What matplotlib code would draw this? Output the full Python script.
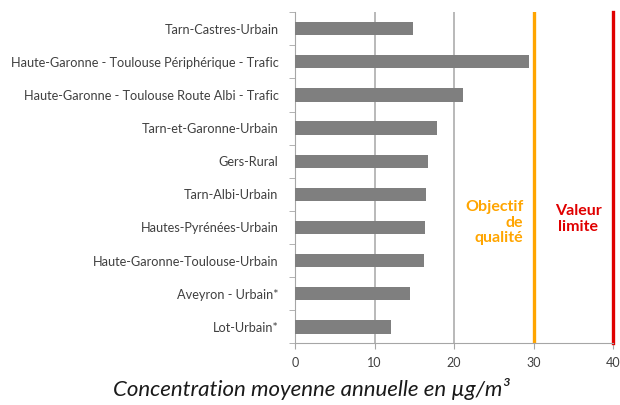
import numpy as np
import matplotlib
matplotlib.use("Agg")
import matplotlib.pyplot as plt

# Stations, top to bottom as in the chart
stations = [
    "Tarn-Castres-Urbain",
    "Haute-Garonne - Toulouse Périphérique - Trafic",
    "Haute-Garonne - Toulouse Route Albi - Trafic",
    "Tarn-et-Garonne-Urbain",
    "Gers-Rural",
    "Tarn-Albi-Urbain",
    "Hautes-Pyrénées-Urbain",
    "Haute-Garonne-Toulouse-Urbain",
    "Aveyron - Urbain*",
    "Lot-Urbain*",
]
concentrations = [14.8, 29.4, 21.1, 17.8, 16.7, 16.4, 16.3, 16.2, 14.4, 12.1]
x_ticks = [0, 10, 20, 30, 40]
objectif_qualite = 30
valeur_limite = 40

axis_grey = "#a6a6a6"
label_grey = "#404040"

plt.rcParams["font.family"] = ["Lato", "DejaVu Sans"]

fig = plt.figure(figsize=(6.2, 4.05), dpi=100)
ax = fig.add_axes([0.476, 0.152, 0.513, 0.818])

y_pos = np.arange(len(stations))[::-1]
ax.barh(y_pos, concentrations, height=0.4, color="#7f7f7f", zorder=3)

# gridlines at 10 and 20, thresholds at 30 and 40
for x in x_ticks[1:3]:
    ax.axvline(x, color=axis_grey, lw=1.1, zorder=1)
ax.axvline(objectif_qualite, color="#ffa500", lw=2.4, zorder=2)
ax.axvline(valeur_limite, color="#e00000", lw=2.4, zorder=2, clip_on=False)

ax.text(28.7, 3.15, "Objectif\nde\nqualité", color="#ffa500", fontsize=11.5,
        fontweight="bold", ha="right", va="center", linespacing=1.15)
ax.text(35.6, 3.25, "Valeur\nlimite", color="#e00000", fontsize=11.5,
        fontweight="bold", ha="center", va="center", linespacing=1.15)

ax.set_xlim(0, 40)
ax.set_ylim(-0.5, len(stations) - 0.5)
ax.set_xticks(x_ticks)
ax.set_xticklabels([str(t) for t in x_ticks], color=label_grey, fontsize=9)
ax.set_yticks(y_pos)
ax.set_yticklabels(stations, color=label_grey, fontsize=9.2)
ax.set_yticks(np.arange(len(stations) + 1) - 0.5, minor=True)
ax.tick_params(axis="y", which="major", length=0, pad=12)
ax.tick_params(axis="y", which="minor", length=4, color=axis_grey)
ax.tick_params(axis="x", length=4, color=axis_grey, pad=6)

for side in ["top", "right"]:
    ax.spines[side].set_visible(False)
for side in ["left", "bottom"]:
    ax.spines[side].set_color(axis_grey)

fig.text(0.502, 0.022, "Concentration moyenne annuelle en µg/m³",
         fontsize=16, style="italic", color="#1a1a1a", ha="center")

fig.savefig("out.png", dpi=100)
